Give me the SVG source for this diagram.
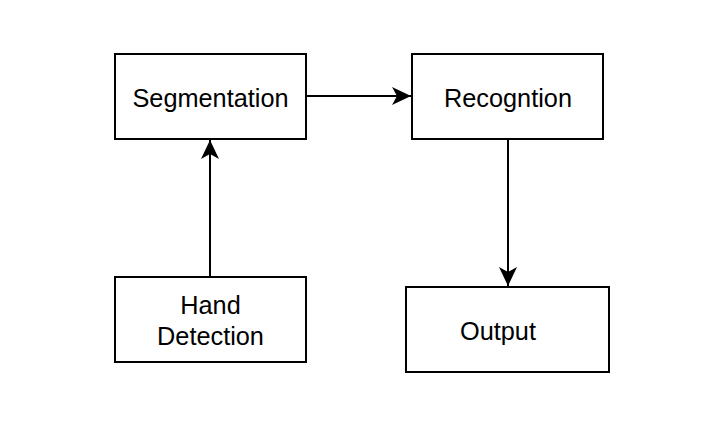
<svg xmlns="http://www.w3.org/2000/svg" width="727" height="438" viewBox="0 0 727 438">
<style>
.box{fill:#fff;stroke:#000;stroke-width:2}
.lbl{font-family:"Liberation Sans",Arial,sans-serif;font-size:25.3px;fill:#000;text-anchor:middle}
.edge{fill:none;stroke:#000;stroke-width:2}
</style>
<defs>
<marker id="arr" markerUnits="userSpaceOnUse" markerWidth="20" markerHeight="20" viewBox="0 0 20 20" refX="19" refY="10" orient="auto">
<path d="M19,10 L0,1 L5,10 L0,19 Z" fill="#000"/>
</marker>
</defs>
<rect width="727" height="438" fill="#fff"/>
<g id="connectors">
<line class="edge" x1="306" y1="96" x2="411" y2="96" marker-end="url(#arr)"/>
<line class="edge" x1="210" y1="277" x2="210" y2="140" marker-end="url(#arr)"/>
<line class="edge" x1="508" y1="139" x2="508" y2="286" marker-end="url(#arr)"/>
</g>
<g id="segmentation">
<rect class="box" x="115" y="54" width="191" height="85"/>
<text class="lbl" x="210.5" y="106.5">Segmentation</text>
</g>
<g id="recognition">
<rect class="box" x="412" y="54" width="191" height="85"/>
<text class="lbl" x="508" y="106.5">Recogntion</text>
</g>
<g id="hand-detection">
<rect class="box" x="115" y="277" width="191" height="85"/>
<text class="lbl" x="210.5" y="314">Hand</text>
<text class="lbl" x="210.5" y="345">Detection</text>
</g>
<g id="output">
<rect class="box" x="406" y="287" width="203" height="85"/>
<text class="lbl" x="498" y="339.5">Output</text>
</g>
</svg>
